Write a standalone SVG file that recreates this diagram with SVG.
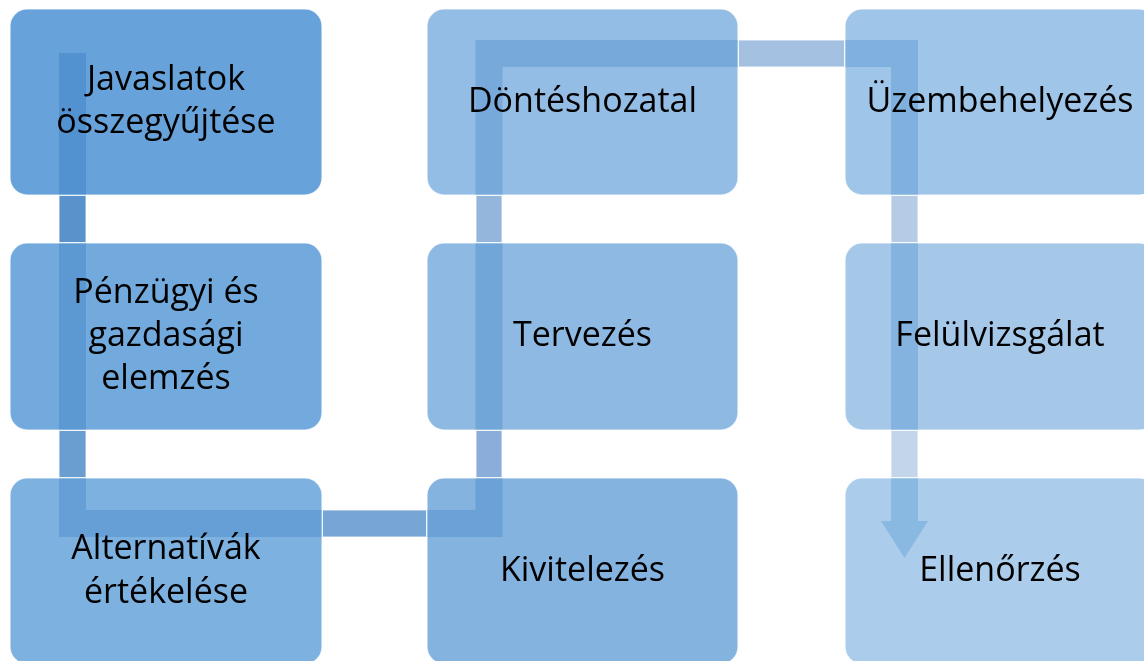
<svg xmlns="http://www.w3.org/2000/svg" width="1144" height="661" viewBox="0 0 1144 661">
  <style>
    .box { stroke: #ffffff; stroke-width: 1.2; stroke-opacity: 0.8; }
    .lbl { font-family: "Open Sans", "Liberation Sans", sans-serif; font-size: 34px; fill: #000000; text-anchor: middle; }
    .gap { stroke: #ffffff; stroke-width: 1; stroke-opacity: 0.8; }
    .ovl { mix-blend-mode: multiply; }
  </style>
  <defs>
    <clipPath id="boxclip">
      <rect x="10" y="9" width="312" height="186" rx="17"/>
      <rect x="10" y="243" width="312" height="187" rx="17"/>
      <rect x="10" y="478" width="312" height="186" rx="17"/>
      <rect x="427" y="9" width="311" height="186" rx="17"/>
      <rect x="427" y="243" width="311" height="187" rx="17"/>
      <rect x="427" y="478" width="311" height="186" rx="17"/>
      <rect x="845" y="9" width="311" height="186" rx="17"/>
      <rect x="845" y="243" width="311" height="187" rx="17"/>
      <rect x="845" y="478" width="311" height="186" rx="17"/>
    </clipPath>
  </defs>
  <rect width="1144" height="661" fill="#ffffff"/>

  <g id="n1">
    <rect class="box" x="10" y="9" width="312" height="186" rx="17" fill="#67a3da"/>
    <text class="lbl" x="166" y="90">Javaslatok</text>
    <text class="lbl" x="166" y="133">összegyűjtése</text>
  </g>
  <g id="n2">
    <rect class="box" x="10" y="243" width="312" height="187" rx="17" fill="#72aadd"/>
    <text class="lbl" x="166" y="303">Pénzügyi és</text>
    <text class="lbl" x="166" y="346">gazdasági</text>
    <text class="lbl" x="166" y="389">elemzés</text>
  </g>
  <g id="n3">
    <rect class="box" x="10" y="478" width="312" height="186" rx="17" fill="#7db1df"/>
    <text class="lbl" x="166" y="559">Alternatívák</text>
    <text class="lbl" x="166" y="603">értékelése</text>
  </g>
  <g id="n4">
    <rect class="box" x="427" y="478" width="311" height="186" rx="17" fill="#84b3e0"/>
    <text class="lbl" x="582.5" y="581">Kivitelezés</text>
  </g>
  <g id="n5">
    <rect class="box" x="427" y="243" width="311" height="187" rx="17" fill="#8db9e3"/>
    <text class="lbl" x="582.5" y="346">Tervezés</text>
  </g>
  <g id="n6">
    <rect class="box" x="427" y="9" width="311" height="186" rx="17" fill="#94bde5"/>
    <text class="lbl" x="582.5" y="112">Döntéshozatal</text>
  </g>
  <g id="n7">
    <rect class="box" x="845" y="9" width="311" height="186" rx="17" fill="#9fc5e8"/>
    <text class="lbl" x="1000" y="112">Üzembehelyezés</text>
  </g>
  <g id="n8">
    <rect class="box" x="845" y="243" width="311" height="187" rx="17" fill="#a5c8e9"/>
    <text class="lbl" x="1000" y="346">Felülvizsgálat</text>
  </g>
  <g id="n9">
    <rect class="box" x="845" y="478" width="311" height="186" rx="17" fill="#abcdeb"/>
    <text class="lbl" x="1000" y="581">Ellenőrzés</text>
  </g>

  <g id="connectors">
    <rect class="gap" x="59" y="195.5" width="27" height="47" fill="#5a92cb"/>
    <rect class="gap" x="59" y="430.5" width="27" height="47" fill="#6a9dd0"/>
    <rect class="gap" x="322.5" y="510" width="104" height="27" fill="#77a5d5"/>
    <rect class="gap" x="476" y="430.5" width="26" height="47" fill="#8aaed9"/>
    <rect class="gap" x="476" y="195.5" width="26" height="47" fill="#94b5dc"/>
    <rect class="gap" x="738.5" y="40" width="106" height="27" fill="#a5c1e2"/>
    <rect class="gap" x="891" y="195.5" width="27" height="47" fill="#b6cce6"/>
    <rect class="gap" x="891" y="430.5" width="27" height="47" fill="#c3d5ea"/>
    <g class="ovl" clip-path="url(#boxclip)">
      <path d="M72.5,53 V523.5 H489 V53.5 H904.5 V521" fill="none" stroke="#cde5f4" stroke-width="27" stroke-linejoin="miter" stroke-linecap="butt"/>
      <polygon points="881,521 928,521 904.5,558" fill="#cde5f4"/>
    </g>
  </g>
</svg>
